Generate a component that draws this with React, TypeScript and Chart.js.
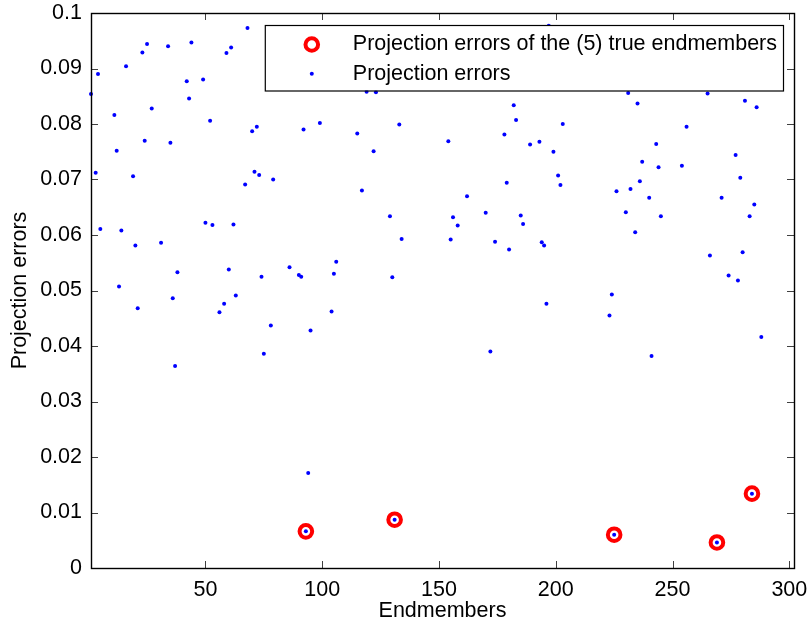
import { useEffect, useRef } from 'react';
import { Chart, registerables } from 'chart.js';

Chart.register(...registerables);

const FONT = '"Liberation Sans", Arial, Helvetica, sans-serif';
const FONT_SIZE = 21.5;

// Data
const trueIdx = [93, 131, 225, 269, 284];
const trueErr = [0.0066, 0.0087, 0.006, 0.0046, 0.0134];

const allIdx = [
  1, 3, 4, 5, 11, 12, 13, 14, 16, 19, 20, 21, 23, 24, 25, 27, 31, 34, 35, 36,
  37, 38, 42, 43, 44, 49, 50, 52, 53, 56, 58, 59, 60, 61, 62, 63, 67, 68, 70, 71,
  72, 73, 74, 75, 78, 79, 86, 90, 91, 92, 93, 94, 95, 99, 104, 105, 106, 115, 117, 119,
  122, 123, 129, 130, 131, 133, 134, 154, 155, 156, 158, 162, 170, 172, 174, 178, 179, 180, 182, 183,
  185, 186, 189, 193, 194, 195, 196, 197, 199, 201, 202, 203, 223, 224, 225, 226, 230, 231, 232, 234,
  235, 236, 237, 240, 241, 243, 244, 245, 254, 256, 262, 265, 266, 269, 271, 274, 277, 278, 279, 280,
  281, 283, 284, 285, 286, 288,
];
const allErr = [
  0.0854, 0.0712, 0.089, 0.0611, 0.0816, 0.0752, 0.0507, 0.0608, 0.0904, 0.0706, 0.0581, 0.0468, 0.0929, 0.077, 0.0944, 0.0828, 0.0586, 0.094, 0.0766, 0.0486,
  0.0364, 0.0533, 0.0877, 0.0846, 0.0947, 0.088, 0.0622, 0.0806, 0.0618, 0.0461, 0.0476, 0.0928, 0.0538, 0.0938, 0.0619, 0.0491, 0.0691, 0.0973, 0.0787, 0.0714,
  0.0795, 0.0708, 0.0525, 0.0386, 0.0437, 0.07, 0.0542, 0.0528, 0.0525, 0.079, 0.0066, 0.0171, 0.0428, 0.0802, 0.0462, 0.053, 0.0552, 0.0783, 0.068, 0.0858,
  0.0751, 0.0857, 0.0634, 0.0524, 0.0087, 0.0799, 0.0593, 0.0769, 0.0592, 0.0632, 0.0617, 0.067, 0.064, 0.039, 0.0588, 0.0781, 0.0694, 0.0574, 0.0834, 0.0807,
  0.0635, 0.062, 0.0763, 0.0768, 0.0587, 0.0581, 0.0476, 0.0977, 0.075, 0.0707, 0.069, 0.08, 0.0455, 0.0493, 0.006, 0.0679, 0.0641, 0.0856, 0.0683, 0.0605,
  0.0837, 0.0697, 0.0732, 0.0667, 0.0382, 0.0764, 0.0722, 0.0634, 0.0725, 0.0795, 0.0866, 0.0855, 0.0563, 0.0046, 0.0667, 0.0527, 0.0744, 0.0518, 0.0703, 0.0569,
  0.0842, 0.0634, 0.0134, 0.0655, 0.083, 0.0416,
];

const xTicks = [50, 100, 150, 200, 250, 300];
const yTicks = [0, 0.01, 0.02, 0.03, 0.04, 0.05, 0.06, 0.07, 0.08, 0.09, 0.1];
const yTickLabels = ['0', '0.01', '0.02', '0.03', '0.04', '0.05', '0.06', '0.07', '0.08', '0.09', '0.1'];
const xTitle = 'Endmembers';
const yTitle = 'Projection errors';
const legendLabels = ['Projection errors of the (5) true endmembers', 'Projection errors'];

const boxPlugin = {
  id: 'matlabBox',
  afterDatasetsDraw(chart: any) {
    const { ctx, chartArea: a, scales } = chart;
    const xs = scales.x;
    const ys = scales.y;
    const tl = 7;
    ctx.save();
    ctx.strokeStyle = '#404040';
    ctx.lineWidth = 1;
    ctx.beginPath();
    xTicks.forEach((v) => {
      const px = Math.round(xs.getPixelForValue(v)) + 0.5;
      ctx.moveTo(px, a.bottom);
      ctx.lineTo(px, a.bottom - tl);
      ctx.moveTo(px, a.top);
      ctx.lineTo(px, a.top + tl);
    });
    yTicks.forEach((v) => {
      const py = Math.round(ys.getPixelForValue(v)) + 0.5;
      ctx.moveTo(a.left, py);
      ctx.lineTo(a.left + tl, py);
      ctx.moveTo(a.right, py);
      ctx.lineTo(a.right - tl, py);
    });
    ctx.stroke();
    ctx.strokeStyle = '#000';
    ctx.lineWidth = 1.4;
    ctx.strokeRect(a.left + 0.5, a.top + 0.5, a.right - a.left, a.bottom - a.top);

    // Legend
    ctx.font = `${FONT_SIZE}px ${FONT}`;
    const textW = Math.max(...legendLabels.map((t) => ctx.measureText(t).width));
    const right = a.right - 11;
    const left = right - (88 + textW + 6);
    const top = a.top + 12;
    const h = 65.5;
    ctx.fillStyle = '#fff';
    ctx.fillRect(left, top, right - left, h);
    ctx.strokeStyle = '#000';
    ctx.lineWidth = 1.2;
    ctx.strokeRect(left + 0.5, top + 0.5, right - left, h);
    const symX = left + 47;
    const rows = [top + 19.5, top + 48.7];
    const ds = chart.data.datasets;
    ctx.beginPath();
    ctx.arc(symX, rows[0], ds[1].pointRadius, 0, Math.PI * 2);
    ctx.strokeStyle = ds[1].borderColor;
    ctx.lineWidth = ds[1].borderWidth;
    ctx.stroke();
    ctx.beginPath();
    ctx.arc(symX, rows[1], ds[0].pointRadius, 0, Math.PI * 2);
    ctx.fillStyle = ds[0].backgroundColor;
    ctx.fill();
    ctx.fillStyle = '#000';
    ctx.textAlign = 'left';
    ctx.textBaseline = 'middle';
    ctx.fillText(ds[1].label, left + 88, rows[0]);
    ctx.fillText(ds[0].label, left + 88, rows[1]);
    ctx.restore();
  },
};

export default function App() {
  const ref = useRef<HTMLCanvasElement | null>(null);
  useEffect(() => {
    if (!ref.current) return;
    const chart = new Chart(ref.current, {
      type: 'scatter',
      data: {
        datasets: [
          {
            label: legendLabels[1],
            data: allIdx.map((x, i) => ({ x, y: allErr[i] })),
            backgroundColor: '#0000ff',
            borderWidth: 0,
            pointRadius: 2,
            pointHoverRadius: 2,
            order: 0,
            clip: false,
          } as any,
          {
            label: legendLabels[0],
            data: trueIdx.map((x, i) => ({ x, y: trueErr[i] })),
            backgroundColor: 'rgba(0,0,0,0)',
            borderColor: '#ff0000',
            borderWidth: 4,
            pointRadius: 6.3,
            pointHoverRadius: 6.3,
            order: 1,
            clip: false,
          } as any,
        ],
      },
      options: {
        responsive: false,
        animation: false,
        devicePixelRatio: 1,
        layout: { padding: { top: 13, right: 14, left: 0, bottom: 0 } },
        plugins: { legend: { display: false }, tooltip: { enabled: false } },
        events: [],
        scales: {
          x: {
            type: 'linear',
            min: 1,
            max: 302,
            afterBuildTicks: (s: any) => {
              s.ticks = xTicks.map((v) => ({ value: v }));
            },
            afterFit: (s: any) => {
              s.height = 56;
              s.paddingLeft = 0;
              s.paddingRight = 0;
            },
            grid: { display: false, drawTicks: false },
            border: { display: false },
            ticks: {
              autoSkip: false,
              maxRotation: 0,
              padding: 9,
              color: '#000',
              font: { family: FONT, size: FONT_SIZE },
              callback: (v: any) => String(v),
            },
            title: {
              display: true,
              text: xTitle,
              color: '#000',
              font: { family: FONT, size: FONT_SIZE },
              padding: { top: 0, bottom: 0 },
            },
          },
          y: {
            type: 'linear',
            min: 0,
            max: 0.1,
            afterBuildTicks: (s: any) => {
              s.ticks = yTicks.map((v) => ({ value: v }));
            },
            afterFit: (s: any) => {
              s.width = 91;
              s.paddingTop = 0;
              s.paddingBottom = 0;
            },
            grid: { display: false, drawTicks: false },
            border: { display: false },
            ticks: {
              autoSkip: false,
              padding: 9,
              color: '#000',
              font: { family: FONT, size: FONT_SIZE },
              callback: (v: any) => {
                const i = yTicks.findIndex((t) => Math.abs(t - v) < 1e-9);
                return i >= 0 ? yTickLabels[i] : '';
              },
            },
            title: {
              display: true,
              text: yTitle,
              color: '#000',
              font: { family: FONT, size: FONT_SIZE },
              padding: { top: 7, bottom: 0 },
            },
          },
        },
      },
      plugins: [boxPlugin],
    });
    return () => chart.destroy();
  }, []);
  return (
    <div style={{ position: 'fixed', left: 0, top: 0, width: 808, height: 624, background: '#fff' }}>
      <canvas ref={ref} width={808} height={624} style={{ width: 808, height: 624, display: 'block' }} />
    </div>
  );
}
